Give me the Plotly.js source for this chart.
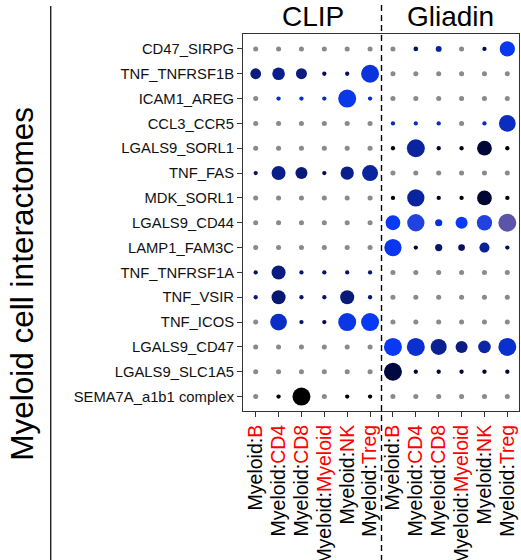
<!DOCTYPE html>
<html>
<head>
<meta charset="utf-8">
<script src="https://cdn.plot.ly/plotly-3.0.1.min.js"></script>
<style>
  html, body { margin: 0; padding: 0; background: #fff; }
  #chart { width: 521px; height: 560px; }
</style>
</head>
<body>
<div id="chart"></div>
<script>
// Conditions and receiving cell types (sender is always Myeloid)
const conditions = ['CLIP', 'Gliadin'];
const cellTypes = ['B', 'CD4', 'CD8', 'Myeloid', 'NK', 'Treg'];

// Ligand_receptor pairs, top to bottom
const interactions = [
  'CD47_SIRPG', 'TNF_TNFRSF1B', 'ICAM1_AREG', 'CCL3_CCR5', 'LGALS9_SORL1',
  'TNF_FAS', 'MDK_SORL1', 'LGALS9_CD44', 'LAMP1_FAM3C', 'TNF_TNFRSF1A',
  'TNF_VSIR', 'TNF_ICOS', 'LGALS9_CD47', 'LGALS9_SLC1A5', 'SEMA7A_a1b1 complex'
];

// Significance score per interaction (0 = not significant);
// columns: CLIP B..Treg, then Gliadin B..Treg
const significance = [
  [0, 0, 0, 0, 0, 0,            0, 0.26, 0.33, 0, 0.24, 0.85],
  [0.6, 0.7, 0.61, 0.24, 0.24, 1.0, 0, 0, 0, 0, 0, 0],
  [0, 0.24, 0.24, 0.24, 1.0, 0.24, 0, 0, 0, 0, 0, 0],
  [0, 0, 0, 0, 0, 0,            0.24, 0.24, 0.24, 0, 0.24, 0.93],
  [0, 0, 0, 0, 0, 0,            0.24, 1.0, 0.24, 0.24, 0.82, 0.24],
  [0.24, 0.78, 0.67, 0.24, 0.74, 0.89, 0, 0, 0, 0, 0, 0],
  [0, 0, 0, 0, 0, 0,            0.24, 0.96, 0.24, 0.24, 0.82, 0.24],
  [0, 0, 0, 0, 0, 0,            0.82, 0.96, 0.4, 0.67, 0.85, 1.0],
  [0, 0, 0, 0, 0, 0,            0.96, 0.24, 0.4, 0.37, 0.56, 0.24],
  [0.24, 0.78, 0.24, 0.24, 0.24, 0.24, 0, 0, 0, 0, 0, 0],
  [0.24, 0.78, 0.24, 0.24, 0.78, 0.24, 0, 0, 0, 0, 0, 0],
  [0, 0.93, 0.24, 0.24, 1.0, 1.0, 0, 0, 0, 0, 0, 0],
  [0, 0, 0, 0, 0, 0,            1.0, 1.0, 0.89, 0.67, 0.7, 1.0],
  [0, 0, 0, 0, 0, 0,            1.0, 0.24, 0.24, 0.24, 0.24, 0.24],
  [0, 0.24, 1.0, 0, 0.24, 0.24, 0, 0, 0, 0, 0, 0]
];

// Scaled mean expression per interaction (only used where significant)
const meanExpr = [
  [0, 0, 0, 0, 0, 0,            0, 0.38, 0.55, 0, 0.3, 0.87],
  [0.48, 0.52, 0.48, 0.33, 0.35, 0.8, 0, 0, 0, 0, 0, 0],
  [0, 0.72, 0.72, 0.72, 0.85, 0.72, 0, 0, 0, 0, 0, 0],
  [0, 0, 0, 0, 0, 0,            0.68, 0.7, 0.7, 0, 0.7, 0.7],
  [0, 0, 0, 0, 0, 0,            0.05, 0.6, 0.2, 0.05, 0.22, 0.02],
  [0.4, 0.52, 0.45, 0.3, 0.52, 0.6, 0, 0, 0, 0, 0, 0],
  [0, 0, 0, 0, 0, 0,            0.02, 0.6, 0.15, 0.03, 0.2, 0.02],
  [0, 0, 0, 0, 0, 0,            0.88, 0.93, 0.75, 0.9, 0.93, 1.0],
  [0, 0, 0, 0, 0, 0,            0.86, 0.2, 0.4, 0.35, 0.55, 0.33],
  [0.4, 0.48, 0.4, 0.38, 0.38, 0.4, 0, 0, 0, 0, 0, 0],
  [0.48, 0.42, 0.4, 0.4, 0.45, 0.42, 0, 0, 0, 0, 0, 0],
  [0, 0.72, 0.4, 0.3, 0.84, 0.88, 0, 0, 0, 0, 0, 0],
  [0, 0, 0, 0, 0, 0,            0.89, 0.75, 0.55, 0.5, 0.62, 0.75],
  [0, 0, 0, 0, 0, 0,            0.25, 0.2, 0.22, 0.22, 0.22, 0.22],
  [0, 0, 0, 0, 0, 0,            0, 0, 0, 0, 0, 0]
];

const nsSize = 0.28;

// Flatten into marker arrays
const sigX = [], sigY = [], sigS = [], sigC = [];
const nsX = [], nsY = [], nsS = [];
interactions.forEach((name, r) => {
  conditions.forEach((cond, ci) => {
    cellTypes.forEach((ct, pi) => {
      const col = ci * cellTypes.length + pi;
      const s = significance[r][col];
      if (s > 0) {
        sigX.push(col); sigY.push(name); sigS.push(s); sigC.push(meanExpr[r][col]);
      } else {
        nsX.push(col); nsY.push(name); nsS.push(nsSize);
      }
    });
  });
});

const tickVals = [], tickText = [];
conditions.forEach((cond, ci) => {
  cellTypes.forEach((ct, pi) => {
    tickVals.push(ci * cellTypes.length + pi);
    tickText.push('Myeloid:<span style="color:#ff0000">' + ct + '</span>');
  });
});

const sizeRef = 1 / 18;

const traces = [
  {
    type: 'scatter', mode: 'markers', x: nsX, y: nsY,
    marker: { size: nsS, sizemode: 'diameter', sizeref: sizeRef, color: '#8a8a8a',
              opacity: 1, line: { width: 0 } },
    hoverinfo: 'skip', showlegend: false
  },
  {
    type: 'scatter', mode: 'markers', x: sigX, y: sigY,
    marker: {
      size: sigS, sizemode: 'diameter', sizeref: sizeRef, opacity: 1,
      color: sigC, cmin: 0, cmax: 1, showscale: false,
      colorscale: [
        [0, '#000000'], [0.25, '#000840'], [0.45, '#0a1a78'], [0.6, '#0a24a0'],
        [0.75, '#0a30d0'], [0.9, '#0a3af8'], [1, '#5a55a8']
      ],
      line: { width: 0 }
    },
    showlegend: false
  }
];

const font = 'Liberation Sans, Arial, Helvetica, sans-serif';
const pxToPaperY = py => (411 - py) / 377;
const pxToPaperX = px => (px - 243) / 276;

const layout = {
  width: 521, height: 560,
  margin: { l: 243, r: 2, t: 34, b: 149 },
  paper_bgcolor: '#ffffff', plot_bgcolor: '#ffffff',
  font: { family: font, color: '#000' },
  showlegend: false,
  xaxis: {
    range: [-0.555, 11.51], tickmode: 'array', tickvals: tickVals, ticktext: tickText,
    tickangle: -90, tickfont: { size: 19.5, color: '#000', family: font },
    ticks: 'outside', ticklen: 5, tickcolor: '#333', tickwidth: 1,
    showline: true, mirror: true, linecolor: '#333', linewidth: 1,
    showgrid: false, zeroline: false, automargin: false, fixedrange: true
  },
  yaxis: {
    type: 'category', categoryorder: 'array', categoryarray: interactions,
    range: [14.58, -0.6],
    tickfont: { size: 14.8, color: '#111', family: font },
    ticks: 'outside', ticklen: 5, tickcolor: '#333', tickwidth: 1,
    showline: true, mirror: true, linecolor: '#333', linewidth: 1,
    showgrid: false, zeroline: false, automargin: false, fixedrange: true
  },
  shapes: [
    { type: 'line', xref: 'x', yref: 'paper', x0: 5.5, x1: 5.5,
      y0: pxToPaperY(5), y1: pxToPaperY(560),
      line: { color: '#000', width: 1.4, dash: '6px,4px' } },
    { type: 'line', xref: 'paper', yref: 'paper', x0: pxToPaperX(50.7), x1: pxToPaperX(50.7),
      y0: pxToPaperY(6), y1: pxToPaperY(560),
      line: { color: '#222', width: 1.4 } }
  ],
  annotations: [
    { text: conditions[0], x: 2.5, xref: 'x', y: pxToPaperY(16), yref: 'paper',
      xanchor: 'center', yanchor: 'middle', showarrow: false,
      font: { size: 28, color: '#000', family: font } },
    { text: conditions[1], x: 8.5, xref: 'x', y: pxToPaperY(16), yref: 'paper',
      xanchor: 'center', yanchor: 'middle', showarrow: false,
      font: { size: 28, color: '#000', family: font } },
    { text: 'Myeloid cell interactomes', textangle: -90,
      x: pxToPaperX(22), xref: 'paper', y: pxToPaperY(283.7), yref: 'paper',
      xanchor: 'center', yanchor: 'middle', showarrow: false,
      font: { size: 31.5, color: '#000', family: font } }
  ]
};

Plotly.newPlot('chart', traces, layout, { displayModeBar: false, staticPlot: true });
</script>
</body>
</html>
